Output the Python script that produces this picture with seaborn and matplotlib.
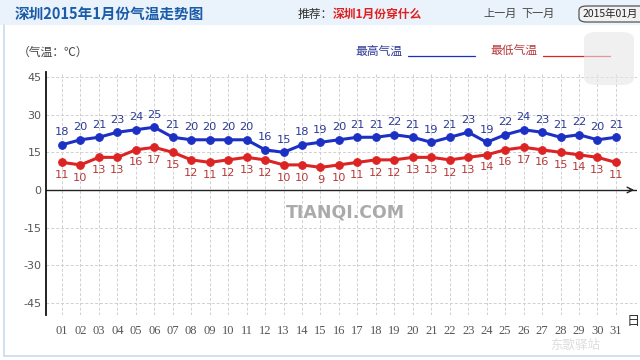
import pandas as pd
import matplotlib.pyplot as plt
import seaborn as sns
from matplotlib.patches import FancyBboxPatch, Rectangle

# Shenzhen daily temperatures, January 2015
days = list(range(1, 32))
day_labels = ['%02d' % d for d in days]
high_temp = [18, 20, 21, 23, 24, 25, 21, 20, 20, 20, 20, 16, 15, 18, 19, 20,
             21, 21, 22, 21, 19, 21, 23, 19, 22, 24, 23, 21, 22, 20, 21]
low_temp = [11, 10, 13, 13, 16, 17, 15, 12, 11, 12, 13, 12, 10, 10, 9, 10,
            11, 12, 12, 13, 13, 12, 13, 14, 16, 17, 16, 15, 14, 13, 11]
y_ticks = [45, 30, 15, 0, -15, -30, -45]

df = pd.DataFrame({'day': days, 'high': high_temp, 'low': low_temp})

sns.set_style('white')
plt.rcParams['font.family'] = ['Noto Sans CJK SC', 'DejaVu Sans']

blue = '#1c30c4'
red = '#dc2424'
blue_txt = '#2b3a96'
red_txt = '#b63a3a'

fig = plt.figure(figsize=(6.4, 3.6), dpi=100)
fig.patch.set_facecolor('white')

# header band and outer frame
fig.patches.append(Rectangle((0, 1 - 25 / 360), 1, 25 / 360, transform=fig.transFigure,
                             facecolor='#eaf3fb', edgecolor='none', zorder=0))
fig.add_artist(plt.Line2D([4 / 640, 4 / 640], [0.01, 1 - 25 / 360], color='#c9dcec', lw=1.2))
fig.add_artist(plt.Line2D([4 / 640, 1], [0.012, 0.012], color='#c9dcec', lw=1.2))
fig.text(15 / 640, 1 - 14 / 360, '深圳2015年1月份气温走势图', color='#1a5ca8',
         fontsize=10.5, fontweight='bold', va='center')
fig.text(298 / 640, 1 - 14 / 360, '推荐：', color='#333333', fontsize=8.5, va='center')
fig.text(333 / 640, 1 - 14 / 360, '深圳1月份穿什么', color='#e02020', fontsize=8.5,
         fontweight='bold', va='center')
fig.text(483 / 640, 1 - 14 / 360, '上一月', color='#444444', fontsize=8, va='center')
fig.text(521 / 640, 1 - 14 / 360, '下一月', color='#444444', fontsize=8, va='center')
fig.patches.append(FancyBboxPatch((579 / 640, 1 - 22 / 360), 70 / 640, 16 / 360,
                                  boxstyle='round,pad=0,rounding_size=0.012',
                                  transform=fig.transFigure, facecolor='#f2f2f2',
                                  edgecolor='#555555', lw=0.9))
fig.text(583 / 640, 1 - 14 / 360, '2015年01月', color='#222222', fontsize=7.5, va='center')

# unit and legend
fig.text(18 / 640, 1 - 52 / 360, '（气温：℃）', color='#444444', fontsize=8.5, va='center')
fig.text(355 / 640, 1 - 51 / 360, '最高气温', color=blue_txt, fontsize=8.5, va='center')
fig.add_artist(plt.Line2D([408 / 640, 475 / 640], [1 - 56 / 360] * 2, color=blue, lw=0.9))
fig.text(490 / 640, 1 - 51 / 360, '最低气温', color=red_txt, fontsize=8.5, va='center')
fig.add_artist(plt.Line2D([543 / 640, 610 / 640], [1 - 56 / 360] * 2, color=red, lw=0.9))

# main plot
ax = fig.add_axes([45.7 / 640, 1 - 315 / 360, (637 - 45.7) / 640, (315 - 72) / 360])
ax.set_facecolor('none')
ax.set_xlim(0.12, 32.14)
ax.set_ylim(-49.8, 47)

for d in days:
    ax.axvline(d, color='#d0d0d0', lw=0.7, ls=(0, (3, 2)), zorder=0)
for t in y_ticks:
    if t != 0:
        ax.axhline(t, color='#d0d0d0', lw=0.7, ls=(0, (3, 2)), zorder=0)

sns.lineplot(data=df, x='day', y='high', ax=ax, color=blue, lw=2.2, marker='o',
             markersize=5.5, markeredgecolor=blue, zorder=3)
sns.lineplot(data=df, x='day', y='low', ax=ax, color=red, lw=2.2, marker='o',
             markersize=5.5, markeredgecolor=red, zorder=3)

for d, h, l in zip(days, high_temp, low_temp):
    ax.annotate(str(h), (d, h), xytext=(0, 5.5), textcoords='offset points',
                ha='center', va='bottom', fontsize=8.2, color=blue_txt,
                family='DejaVu Sans')
    ax.annotate(str(l), (d, l), xytext=(0, -5.5), textcoords='offset points',
                ha='center', va='top', fontsize=8.2, color=red_txt,
                family='DejaVu Sans')

# axes with arrows
ax.axhline(0, color='#222222', lw=1.0, zorder=2)
ax.annotate('', xy=(32.14, 0), xytext=(31.6, 0),
            arrowprops=dict(arrowstyle='->', color='#222222', lw=1.0))
ax.annotate('', xy=(0.12, 47.5), xytext=(0.12, 44),
            arrowprops=dict(arrowstyle='->', color='#222222', lw=1.0))
for s in ['top', 'right', 'bottom']:
    ax.spines[s].set_visible(False)
ax.spines['left'].set_color('#111111')
ax.spines['left'].set_linewidth(1.3)

ax.set_yticks(y_ticks)
ax.set_yticklabels([str(t) for t in y_ticks], fontsize=8, color='#555555',
                   family='DejaVu Sans')
ax.set_xticks(days)
ax.set_xticklabels(day_labels, fontsize=9, color='#555555', family='Liberation Serif')
ax.tick_params(axis='both', length=0, pad=3)
ax.tick_params(axis='x', pad=7)
ax.set_xlabel('')
ax.set_ylabel('')
fig.text(627 / 640, 1 - 322 / 360, '日', color='#333333', fontsize=9.5, va='center')

# watermarks
fig.text(345 / 640, 1 - 212 / 360, 'TIANQI.COM', color='#aaaaaa', fontsize=12.5,
         fontweight='bold', ha='center', va='center', family='DejaVu Sans Condensed')
fig.text(575 / 640, 1 - 345 / 360, '东歌驿站', color='#dddddd', fontsize=9,
         ha='center', va='center')
fig.patches.append(FancyBboxPatch((584 / 640, 1 - 85 / 360), 50 / 640, 53 / 360,
                                  boxstyle='round,pad=0,rounding_size=0.02',
                                  transform=fig.transFigure, facecolor='#e6e6e6',
                                  edgecolor='none', alpha=0.6, zorder=5))

fig.savefig('out.png', dpi=100)
